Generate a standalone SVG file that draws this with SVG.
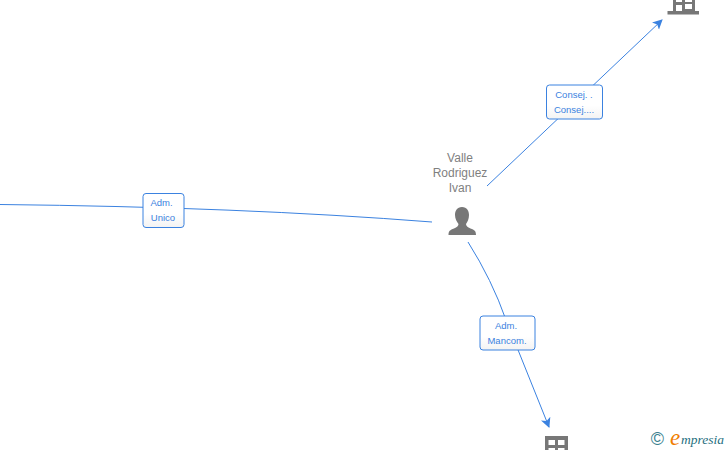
<svg xmlns="http://www.w3.org/2000/svg" width="728" height="450" viewBox="0 0 728 450">
<defs>
<marker id="arrow" markerUnits="userSpaceOnUse" markerWidth="12" markerHeight="12" refX="9" refY="5" orient="auto"><path d="M0,0 L10,5 L0,10 L2.500,5 Z" fill="#3b82e0"/></marker>
<linearGradient id="lbl" x1="0" y1="0" x2="0" y2="1"><stop offset="0" stop-color="#ffffff"/><stop offset="0.6" stop-color="#ffffff"/><stop offset="1" stop-color="#f3f3f3"/></linearGradient>
</defs>
<style>
.edge{fill:none;stroke:#3b82e0;stroke-width:1;}
.box{fill:url(#lbl);stroke:#3b82e0;stroke-width:1;}
.lt{font-family:"Liberation Sans",Arial,sans-serif;font-size:9.500px;fill:#3b82e0;text-anchor:middle;}
.nm{font-family:"Liberation Sans",Arial,sans-serif;font-size:12px;fill:#7f7f7f;text-anchor:middle;}
.ic{fill:#777777;}
</style>
<rect width="728" height="450" fill="#ffffff"/>
<g id="connectors">
<path class="edge" d="M0,204.500 Q240,207 432,222"/>
<path class="edge" d="M487,186 L662,20" marker-end="url(#arrow)"/>
<path class="edge" d="M468,242 Q492,280 506,320 L549,427" marker-end="url(#arrow)"/>
</g>
<g id="label-adm-unico">
<rect class="box" x="143" y="193.500" width="41" height="34" rx="3"/>
<text class="lt" x="161.500" y="206">Adm.</text>
<text class="lt" x="163" y="221">Unico</text>
</g>
<g id="label-consej">
<rect class="box" x="546.500" y="85" width="56" height="34" rx="3"/>
<text class="lt" x="574" y="98">Consej. .</text>
<text class="lt" x="574" y="113">Consej....</text>
</g>
<g id="label-adm-mancom">
<rect class="box" x="480" y="316" width="55" height="34" rx="3"/>
<text class="lt" x="506" y="329">Adm.</text>
<text class="lt" x="507" y="344">Mancom.</text>
</g>
<g id="node-person">
<text class="nm" x="460" y="162">Valle</text>
<text class="nm" x="460" y="177">Rodriguez</text>
<text class="nm" x="460" y="192">Ivan</text>
<path class="ic" d="M462,207 C457,207 455,211 455,215 C455,219 457,222 458.500,224 C458.500,226 457,227 454,228.500 C450,230 448.500,231 448.500,235 L476,235 C476,231 474.500,230 470.500,228.500 C467.500,227 466,226 466,224 C467.500,222 469,219 469,215 C469,211 467,207 462,207 Z"/>
</g>
<g id="node-company-top">
<path class="ic" fill-rule="evenodd" d="M673,-8 H695 V11 H699 V14.500 H667.500 V11 H673 Z M676,0 V2 H682 V0 Z M685,0 V2 H692 V0 Z M676,5 V11 H682 V5 Z M685,4 V9 H692 V4 Z"/>
</g>
<g id="node-company-bottom">
<path class="ic" fill-rule="evenodd" d="M545,436 H568 V450 H545 Z M548.500,440 V445 H555 V440 Z M558,440 V445 H564.500 V440 Z M548.500,448 V450 H555 V448 Z M558,448 V450 H564.500 V448 Z"/>
</g>
<g id="logo">
<text x="657.500" y="445" font-family="Liberation Sans, Arial, sans-serif" font-size="18" fill="#3a7f8f" text-anchor="middle">©</text>
<text x="670" y="445" font-family="Liberation Serif, serif" font-style="italic" font-size="23" fill="#f07d00">e</text>
<text x="681" y="443.500" font-family="Liberation Serif, serif" font-style="italic" font-size="13.500" fill="#1f6f80">mpresia</text>
</g>
</svg>
